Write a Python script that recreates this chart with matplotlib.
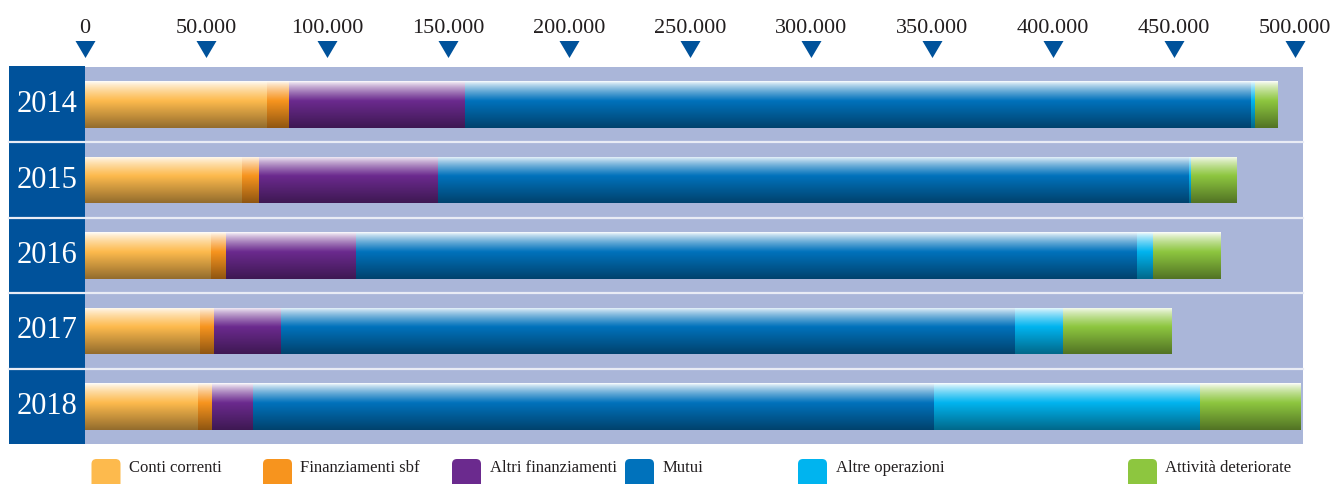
import numpy as np
import matplotlib
matplotlib.use('Agg')
import matplotlib.pyplot as plt
from matplotlib import font_manager
from matplotlib.colors import to_rgb
from matplotlib.patches import FancyBboxPatch, Rectangle
from matplotlib.lines import Line2D
from matplotlib.transforms import blended_transform_factory

# ---------------- data (values in euro) ----------------
years = ['2014', '2015', '2016', '2017', '2018']
conti_correnti = [75100, 64700, 52100, 47500, 46700]
finanziamenti_sbf = [9200, 7300, 6200, 5800, 5800]
altri_finanziamenti = [72700, 73900, 53700, 27700, 16900]
mutui = [324800, 310300, 322700, 303300, 281400]
altre_operazioni = [1700, 800, 6600, 19800, 109900]
attivita_deteriorate = [9500, 18600, 27700, 44700, 41400]

series_names = ['Conti correnti', 'Finanziamenti sbf', 'Altri finanziamenti',
                'Mutui', 'Altre operazioni', 'Attività deteriorate']
series_values = [conti_correnti, finanziamenti_sbf, altri_finanziamenti,
                 mutui, altre_operazioni, attivita_deteriorate]
series_colors = ['#FDBA4D', '#F7941E', '#6B2A8E', '#0072BC', '#00B4EF', '#8DC63F']

tick_values = [0, 50000, 100000, 150000, 200000, 250000, 300000,
               350000, 400000, 450000, 500000]
tick_labels = ['0', '50.000', '100.000', '150.000', '200.000', '250.000',
               '300.000', '350.000', '400.000', '450.000', '500.000']


def pick(cands):
    avail = {f.name for f in font_manager.fontManager.ttflist}
    return [c for c in cands if c in avail] + ['DejaVu Sans']


serif = pick(['Liberation Serif', 'DejaVu Serif'])

W, H = 1336, 484
DARK = '#00529B'
BG = '#AAB6D9'

fig = plt.figure(figsize=(W / 100, H / 100), dpi=100)
ax = fig.add_axes([85 / W, 1 - 444 / H, (1303 - 85) / W, (444 - 67) / H])
ax.set_facecolor(BG)
for s in ax.spines.values():
    s.set_visible(False)

bt = blended_transform_factory(fig.transFigure, ax.transData)
ftr = fig.transFigure


def gradient(color, n=120):
    c = np.array(to_rgb(color))
    t = np.linspace(0, 1, n)
    out = np.zeros((n, 1, 3))
    for k, tt in enumerate(t):
        if tt < 0.42:
            m = (tt / 0.42) ** 0.75
            out[k, 0] = (1 - m) * np.ones(3) + m * c
        else:
            f = 1 - 0.42 * ((tt - 0.42) / 0.58)
            out[k, 0] = c * f
    return out


y = np.arange(len(years))
left = np.zeros(len(years))
bar_h = 0.62
for vals, col in zip(series_values, series_colors):
    vals = np.array(vals, dtype=float)
    bars = ax.barh(y, vals, left=left, height=bar_h, color=col,
                   edgecolor='none', zorder=2)
    g = gradient(col)
    for b in bars:
        x0, w = b.get_x(), b.get_width()
        y0, h = b.get_y(), b.get_height()
        if w <= 0:
            continue
        im = ax.imshow(g, extent=(x0, x0 + w, y0 + h, y0), origin='upper',
                       aspect='auto', interpolation='bilinear', zorder=3)
        im.set_clip_path(b)
    left += vals

ax.set_xlim(0, 503300)
ax.set_ylim(len(years) - 0.5, -0.5)
ax.set_yticks([])

# dark year column (drawn inside the axes artist list, outside the clip box)
ax.add_patch(Rectangle((9 / W, 1 - 444 / H), (85 - 9) / W, (444 - 66) / H,
                       transform=ftr, facecolor=DARK, edgecolor='none',
                       clip_on=False, zorder=1))

# separators
for i in range(len(years) - 1):
    ax.add_line(Line2D([9 / W, 1303 / W], [i + 0.5, i + 0.5], transform=bt,
                       color='#E9ECF5', lw=1.6, clip_on=False, zorder=4))

# year labels
for i, yr in enumerate(years):
    ax.text(47 / W, i, yr, transform=bt, ha='center', va='center',
            color='white', fontsize=22, family=serif, zorder=5)

# top ticks
ax.xaxis.tick_top()
ax.set_xticks(tick_values)
ax.set_xticklabels(tick_labels, family=serif)
ax.tick_params(axis='x', length=0, pad=21, labelsize=16, labelcolor='#231F20')

tri = [(-1, 0.85), (1, 0.85), (0, -0.85), (-1, 0.85)]
tt = blended_transform_factory(ax.transData, fig.transFigure)
ax.plot(tick_values, [1 - 48.5 / H] * len(tick_values), linestyle='none',
        marker=tri, markersize=14.4, color=DARK, markeredgewidth=0,
        transform=tt, clip_on=False)

# legend
sq_x = [91.5, 263, 452, 625, 798, 1128]
tx_x = [129, 300, 490, 663, 836, 1165]
for name, col, sx, tx in zip(series_names, series_colors, sq_x, tx_x):
    p = FancyBboxPatch((sx / 100, (H - 492) / 100), 0.29, 0.33,
                       boxstyle='round,pad=0,rounding_size=0.05',
                       transform=fig.dpi_scale_trans, facecolor=col,
                       edgecolor='none')
    fig.patches.append(p)
    fig.text(tx / W, 1 - 472 / H, name, va='baseline', ha='left',
             fontsize=12, family=serif, color='#231F20')

fig.savefig('out.png', dpi=100)
